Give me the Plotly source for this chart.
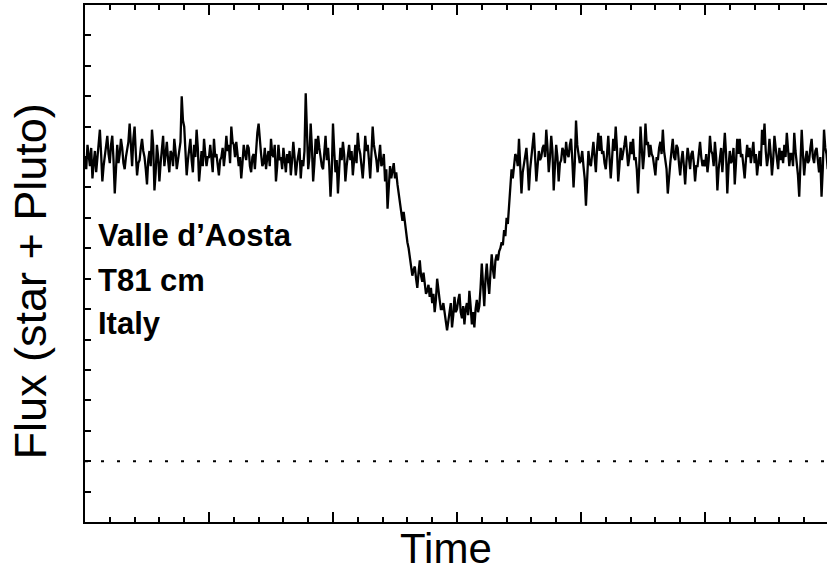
import plotly.graph_objects as go

# Relative flux (star + Pluto), zero-flux level = 0, unocculted level ~100
flux_a = [100, 96, 104, 99, 97, 103, 93, 98, 102, 95, 100, 105, 109, 101, 92, 97, 100, 103, 107, 101,
          98, 104, 107, 99, 88, 96, 104, 98, 101, 106, 103, 98, 96, 100, 102, 105, 111, 103, 97, 106,
          110, 101, 94, 98, 99, 103, 106, 102, 100, 96, 91, 99, 102, 97, 109, 104, 89, 95, 104, 100,
          92, 98, 103, 107, 97, 101, 105, 99, 95, 102, 101, 97, 106, 102, 96, 99, 103, 105, 120, 112,
          110, 101, 94, 99, 103, 106, 99, 95, 104, 100, 109, 103, 92, 98, 102, 97, 106, 101, 97, 100]
flux_b = [100, 104, 99, 95, 106, 100, 101, 97, 94, 99, 100, 103, 97, 101, 107, 102, 104, 98, 110, 105,
          104, 100, 105, 101, 97, 100, 93, 98, 104, 101, 99, 104, 103, 97, 95, 100, 101, 96, 104, 108,
          111, 104, 101, 97, 98, 103, 96, 100, 102, 97, 106, 101, 100, 104, 92, 97, 104, 99, 100, 96,
          103, 99, 95, 101, 98, 102, 94, 99, 105, 100, 94, 98, 100, 103, 93, 99, 97, 102, 121, 104,
          96, 100, 111, 103, 92, 98, 106, 101, 107, 103, 100, 97, 96, 101, 107, 99, 103, 97, 87, 95]
flux_c = [111, 102, 95, 99, 88, 96, 103, 99, 105, 101, 92, 97, 101, 104, 99, 102, 94, 100, 104, 98,
          108, 103, 101, 97, 93, 99, 107, 102, 104, 99, 93, 101, 110, 104, 102, 99, 95, 101, 104, 97,
          98, 101, 92, 96, 83, 90, 97, 93, 95, 98, 93, 95, 91, 88, 86, 83, 79, 82, 78, 75,
          72, 70, 67, 64, 61, 63, 64, 60, 57, 62, 66, 61, 59, 62, 58, 55, 56, 58, 54, 57,
          52, 55, 49, 53, 60, 55, 53, 50, 50, 52, 48, 46, 43, 47, 49, 52, 44, 48, 54, 49]
flux_d = [50, 53, 55, 49, 47, 51, 45, 50, 52, 48, 56, 51, 45, 49, 44, 50, 53, 49, 51, 57,
          65, 58, 51, 60, 65, 59, 55, 62, 68, 63, 60, 66, 68, 66, 69, 70, 72, 71, 76, 74,
          80, 78, 83, 90, 96, 93, 97, 101, 100, 97, 106, 99, 88, 95, 98, 101, 103, 97, 89, 96,
          101, 104, 108, 100, 92, 97, 102, 99, 100, 103, 104, 100, 109, 103, 95, 100, 107, 102, 89, 97,
          104, 100, 92, 98, 99, 103, 102, 98, 105, 101, 100, 104, 106, 99, 90, 98, 112, 104, 101, 98]
flux_e = [99, 102, 97, 93, 84, 95, 102, 98, 97, 101, 105, 100, 95, 103, 108, 102, 107, 101, 102, 98,
          96, 101, 107, 100, 93, 99, 106, 102, 110, 103, 92, 97, 103, 99, 101, 104, 107, 102, 97, 100,
          105, 101, 106, 99, 100, 96, 88, 97, 110, 103, 96, 101, 111, 104, 105, 100, 104, 101, 100, 97,
          94, 100, 99, 103, 105, 101, 109, 102, 99, 96, 88, 95, 98, 102, 106, 100, 99, 104, 103, 98,
          94, 99, 102, 97, 91, 98, 103, 100, 96, 101, 102, 98, 92, 97, 97, 101, 105, 100, 97, 99]
flux_f = [97, 101, 95, 99, 107, 102, 101, 97, 105, 100, 89, 96, 99, 103, 95, 100, 108, 101, 88, 97,
          102, 98, 99, 103, 91, 98, 106, 101, 106, 100, 101, 97, 93, 99, 104, 100, 103, 98, 102, 105,
          98, 101, 94, 99, 102, 97, 109, 104, 111, 102, 97, 100, 106, 101, 94, 99, 107, 103, 100, 96,
          103, 99, 102, 98, 104, 100, 108, 102, 97, 101, 101, 97, 108, 102, 98, 94, 87, 97, 109, 101,
          94, 99, 102, 98, 99, 103, 106, 100, 98, 102, 103, 99, 95, 100, 87, 96, 109, 103, 101, 96]

flux = flux_a + flux_b + flux_c + flux_d + flux_e + flux_f
time = list(range(len(flux)))  # sample number

ZERO_LEVEL = 0
site_lines = ["Valle d\u2019Aosta", "T81 cm", "Italy"]
site_y = [74.2, 59.4, 45.3]

X_RANGE = [0, 598.4]
Y_RANGE = [-20, 150]

FONT = "Liberation Sans, Arial, sans-serif"

fig = go.Figure()
fig.add_trace(go.Scatter(x=time, y=flux, mode="lines",
                         line=dict(color="black", width=2.3), showlegend=False,
                         hoverinfo="skip"))

fig.add_shape(type="line", xref="paper", x0=0, x1=1, yref="y", y0=ZERO_LEVEL, y1=ZERO_LEVEL,
              line=dict(color="black", width=2, dash="3px,13px"), layer="below")

for txt, yy in zip(site_lines, site_y):
    fig.add_annotation(text=txt, xref="paper", x=0.0148, xanchor="left",
                       yref="y", y=yy, yanchor="middle", showarrow=False,
                       font=dict(family=FONT, size=31, color="black", weight="bold"))

fig.add_annotation(text="Time", xref="paper", x=0.487, xanchor="center",
                   yref="paper", y=-0.052, yanchor="middle", showarrow=False,
                   font=dict(family=FONT, size=42, color="black"))
fig.add_annotation(text="Flux (star + Pluto)", xref="paper", x=-0.0728, xanchor="center",
                   yref="paper", y=0.465, yanchor="middle", showarrow=False, textangle=-90,
                   font=dict(family=FONT, size=45, color="black"))

fig.update_layout(
    width=827, height=571,
    margin=dict(l=85, r=0, t=5, b=49),
    plot_bgcolor="white", paper_bgcolor="white",
    xaxis=dict(range=X_RANGE, showgrid=False, zeroline=False, showline=True,
               linecolor="black", linewidth=2, mirror="ticks",
               ticks="inside", ticklen=10, tickwidth=2, tickcolor="black",
               tick0=0, dtick=100, showticklabels=False,
               minor=dict(ticks="inside", ticklen=5, tickwidth=2, tickcolor="black",
                          dtick=20, showgrid=False)),
    yaxis=dict(range=Y_RANGE, showgrid=False, zeroline=False, showline=True,
               linecolor="black", linewidth=2,
               ticks="inside", ticklen=6, tickwidth=2, tickcolor="black",
               tick0=0, dtick=10, showticklabels=False),
    yaxis2=dict(range=Y_RANGE, overlaying="y", side="right", showgrid=False,
                zeroline=False, showline=False,
                ticks="inside", ticklen=5, tickwidth=2, tickcolor="black",
                tick0=0, dtick=10, showticklabels=False),
)

fig.write_html("out.html", config={"displayModeBar": False},
               post_script="document.body.style.margin='0';document.body.style.overflow='hidden';")
